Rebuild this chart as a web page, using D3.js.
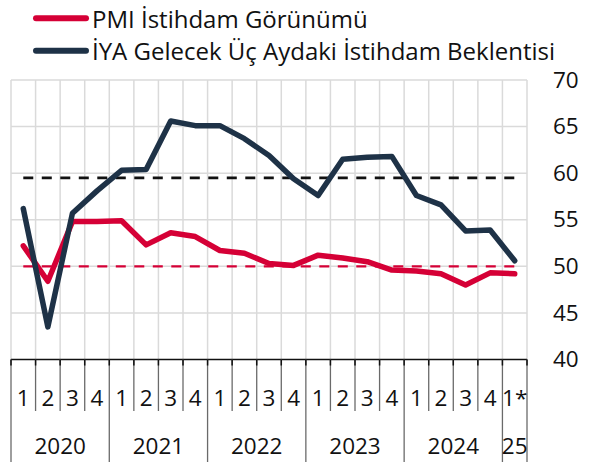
<!DOCTYPE html>
<html>
<head>
<meta charset="utf-8">
<script src="https://cdn.jsdelivr.net/npm/d3@7"></script>
<style>
  html, body { margin: 0; padding: 0; background: #fff; }
  svg { display: block; font-family: "Open Sans", "Noto Sans", sans-serif; }
</style>
</head>
<body>
<svg id="chart" width="592" height="462"></svg>
<script>
// Quarterly labels (bottom axis, first row) and the year each quarter belongs to
const quarterLabels = ["1","2","3","4","1","2","3","4","1","2","3","4","1","2","3","4","1","2","3","4","1*"];
const quarterYears  = ["2020","2020","2020","2020","2021","2021","2021","2021","2022","2022","2022","2022",
                       "2023","2023","2023","2023","2024","2024","2024","2024","25"];
const yearLabels = ["2020","2021","2022","2023","2024","25"];

// Series
const pmiEmployment = [52.2, 48.4, 54.8, 54.8, 54.9, 52.3, 53.6, 53.2, 51.7, 51.4, 50.3, 50.1,
                       51.2, 50.9, 50.5, 49.6, 49.5, 49.2, 48.0, 49.3, 49.2];
const iyaEmployment = [56.2, 43.5, 55.7, 58.1, 60.3, 60.4, 65.6, 65.1, 65.1, 63.7, 61.9, 59.4,
                       57.6, 61.5, 61.7, 61.8, 57.6, 56.6, 53.8, 53.9, 50.6];

// Reference levels
const pmiThreshold = 50;
const iyaAverage = 59.5;

const seriesNames = ["PMI İstihdam Görünümü", "İYA Gelecek Üç Aydaki İstihdam Beklentisi"];
const yTicks = [40, 45, 50, 55, 60, 65, 70];

(function draw() {
  const RED = "#d50036";
  const NAVY = "#1e3247";
  const GRID = "#dadada";

  const svg = d3.select("#chart");
  const plotLeft = 11, plotRight = 527, plotTop = 80, plotBottom = 359.5;

  const idx = d3.range(quarterLabels.length);
  const x = d3.scaleBand().domain(idx).range([plotLeft, plotRight]).padding(0);
  const y = d3.scaleLinear().domain([40, 70]).range([plotBottom, plotTop]);
  const cx = i => x(i) + x.bandwidth() / 2;

  // Grid: horizontal lines
  svg.append("g").selectAll("line").data(yTicks.filter(t => t > 40)).join("line")
    .attr("x1", plotLeft).attr("x2", plotRight)
    .attr("y1", d => y(d)).attr("y2", d => y(d))
    .attr("stroke", GRID).attr("stroke-width", 1.5);

  // Grid: vertical lines at quarter boundaries
  const bounds = idx.map(i => x(i)).concat([plotRight]);
  svg.append("g").selectAll("line").data(bounds).join("line")
    .attr("x1", d => d).attr("x2", d => d)
    .attr("y1", plotTop).attr("y2", plotBottom)
    .attr("stroke", GRID).attr("stroke-width", 1.5);

  // Reference dashed lines
  const xFirst = cx(0), xLast = cx(idx.length - 1);
  svg.append("line")
    .attr("x1", xFirst).attr("x2", xLast)
    .attr("y1", y(iyaAverage)).attr("y2", y(iyaAverage))
    .attr("stroke", "#111").attr("stroke-width", 2.6).attr("stroke-dasharray", "10,8.5");
  svg.append("line")
    .attr("x1", xFirst).attr("x2", xLast)
    .attr("y1", y(pmiThreshold)).attr("y2", y(pmiThreshold))
    .attr("stroke", RED).attr("stroke-width", 2.4).attr("stroke-dasharray", "10,8.5");

  // Series lines
  const line = d3.line().x((d, i) => cx(i)).y(d => y(d));
  svg.append("path").datum(pmiEmployment)
    .attr("d", line).attr("fill", "none")
    .attr("stroke", RED).attr("stroke-width", 5.5)
    .attr("stroke-linejoin", "round").attr("stroke-linecap", "round");
  svg.append("path").datum(iyaEmployment)
    .attr("d", line).attr("fill", "none")
    .attr("stroke", NAVY).attr("stroke-width", 5.5)
    .attr("stroke-linejoin", "round").attr("stroke-linecap", "round");

  // Right value axis
  const yAxis = d3.axisRight(y).tickValues(yTicks).tickSize(0).tickPadding(0);
  const gy = svg.append("g").attr("transform", "translate(553,0)").call(yAxis);
  gy.select(".domain").remove();
  gy.selectAll("text").attr("font-size", 22.5).attr("fill", "#111")
    .attr("font-family", "'Open Sans', sans-serif");

  // Bottom category axis: baseline, quarter separators, year separators
  svg.append("line").attr("x1", plotLeft).attr("x2", plotRight)
    .attr("y1", plotBottom).attr("y2", plotBottom)
    .attr("stroke", "#111").attr("stroke-width", 1.5);

  const yearStart = idx.filter(i => i === 0 || quarterYears[i] !== quarterYears[i - 1]);
  const isYearBound = b => yearStart.some(i => x(i) === b) || b === plotRight;

  svg.append("g").selectAll("line").data(bounds).join("line")
    .attr("x1", d => d).attr("x2", d => d)
    .attr("y1", plotBottom).attr("y2", d => isYearBound(d) ? 462 : 411)
    .attr("stroke", "#6a6a6a").attr("stroke-width", 1.3);
  svg.append("g").selectAll("line").data(bounds).join("line")
    .attr("x1", d => d).attr("x2", d => d)
    .attr("y1", plotBottom).attr("y2", plotBottom + 6)
    .attr("stroke", "#111").attr("stroke-width", 1.5);

  // Quarter labels
  svg.append("g").selectAll("text").data(idx).join("text")
    .attr("x", i => cx(i)).attr("y", 397.5)
    .attr("text-anchor", "middle").attr("dominant-baseline", "central")
    .attr("font-size", 22.5).attr("fill", "#111")
    .text(i => quarterLabels[i]);

  // Year labels, centred on their quarters
  svg.append("g").selectAll("text").data(yearLabels).join("text")
    .attr("x", yl => {
      const members = idx.filter(i => quarterYears[i] === yl);
      return (x(members[0]) + x(members[members.length - 1]) + x.bandwidth()) / 2;
    })
    .attr("y", 445.5)
    .attr("text-anchor", "middle").attr("dominant-baseline", "central")
    .attr("font-size", 22.5).attr("fill", "#111")
    .text(d => d);

  // Legend
  const legend = svg.append("g");
  [RED, NAVY].forEach((c, k) => {
    const ly = 18.3 + k * 32.4;
    legend.append("line").attr("x1", 36).attr("x2", 86).attr("y1", ly).attr("y2", ly)
      .attr("stroke", c).attr("stroke-width", 6).attr("stroke-linecap", "round");
    legend.append("text").attr("x", 92).attr("y", ly).attr("dominant-baseline", "central")
      .attr("font-size", 24).attr("fill", "#111").text(seriesNames[k]);
  });
})();
</script>
</body>
</html>
